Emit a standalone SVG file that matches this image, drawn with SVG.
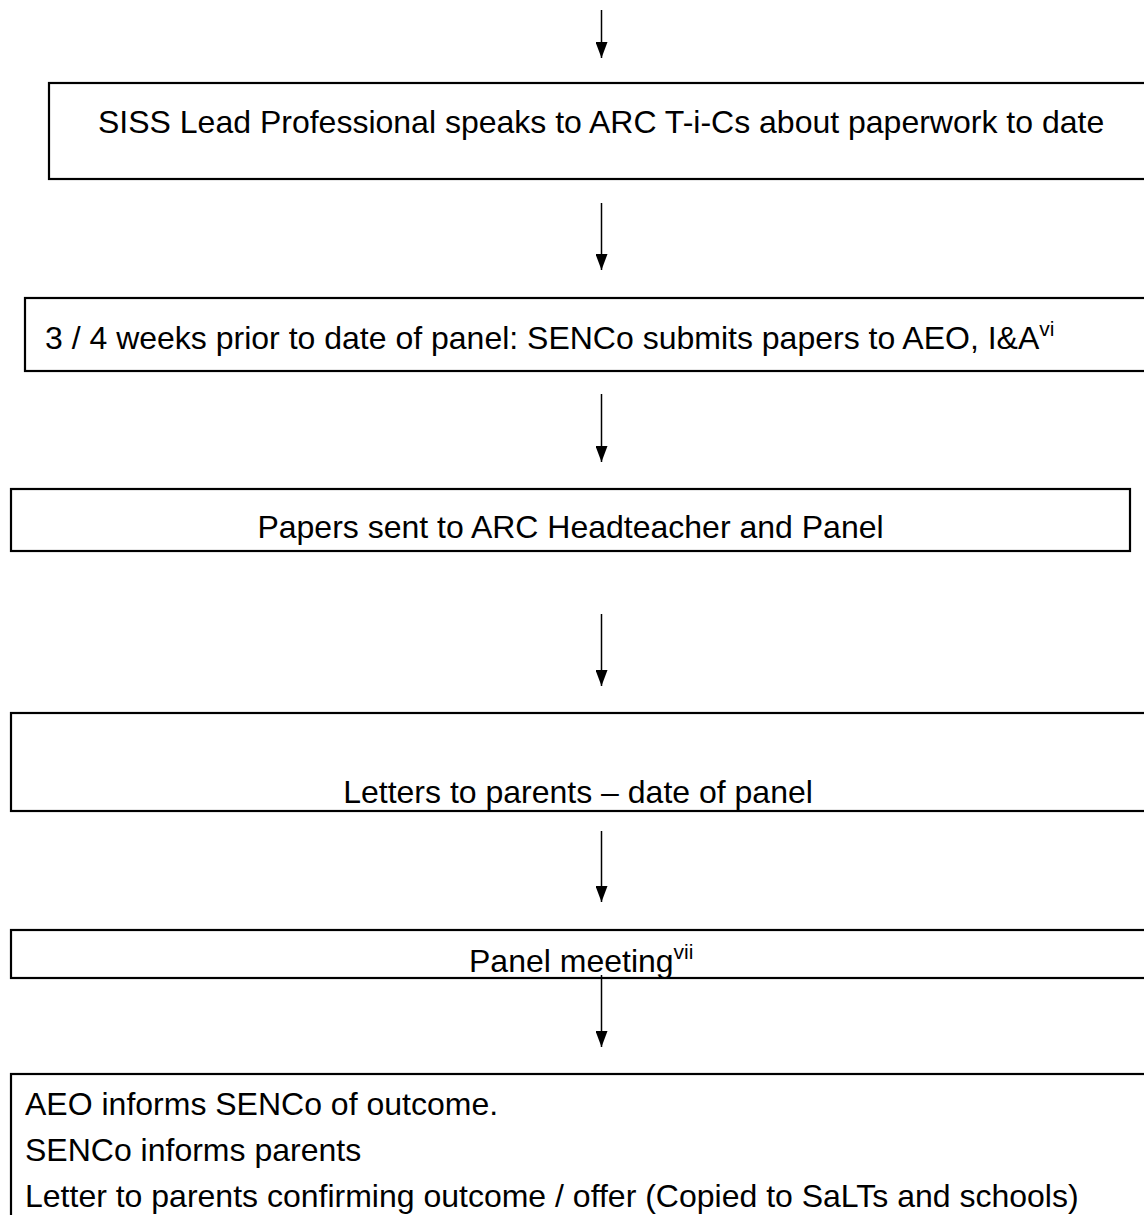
<svg xmlns="http://www.w3.org/2000/svg" width="1144" height="1215" viewBox="0 0 1144 1215">
<style>
.box{fill:#fff;stroke:#000;stroke-width:2.2}
.t{font-family:"Liberation Sans",Arial,sans-serif;font-size:32px;fill:#000}
.sup{font-size:21px}
.conn line{stroke:#000;stroke-width:1.5;fill:none}
</style>
<defs>
<marker id="ah" markerUnits="userSpaceOnUse" markerWidth="16" markerHeight="12" refX="16" refY="6" orient="auto" viewBox="0 0 16 12">
<path d="M0,0 L16,6 L0,12 Z" fill="#000"/>
</marker>
</defs>
<rect width="1144" height="1215" fill="#fff"/>
<g id="n1">
<rect class="box" x="49" y="83" width="1120" height="96"/>
<text class="t" x="98" y="133">SISS Lead Professional speaks to ARC T-i-Cs about paperwork to date</text>
</g>
<g id="n2">
<rect class="box" x="25" y="298" width="1140" height="73"/>
<text class="t" x="45" y="349">3 / 4 weeks prior to date of panel: SENCo submits papers to AEO, I&amp;A<tspan class="sup" dy="-13">vi</tspan></text>
</g>
<g id="n3">
<rect class="box" x="11" y="489" width="1119" height="62"/>
<text class="t" x="570.5" y="538" text-anchor="middle">Papers sent to ARC Headteacher and Panel</text>
</g>
<g id="n4">
<rect class="box" x="11" y="713" width="1150" height="98"/>
<text class="t" x="578" y="803" text-anchor="middle">Letters to parents – date of panel</text>
</g>
<g id="n5">
<rect class="box" x="11" y="930" width="1150" height="48"/>
<text class="t" x="469" y="972">Panel meeting<tspan class="sup" dy="-13">vii</tspan></text>
</g>
<g id="n6">
<rect class="box" x="11" y="1074" width="1150" height="160"/>
<text class="t" x="25" y="1115">AEO informs SENCo of outcome.</text>
<text class="t" x="25" y="1161">SENCo informs parents</text>
<text class="t" x="25" y="1207">Letter to parents confirming outcome / offer (Copied to SaLTs and schools)</text>
</g>
<g id="connectors" class="conn">
<line x1="601.5" y1="10" x2="601.5" y2="58" marker-end="url(#ah)"/>
<line x1="601.5" y1="203" x2="601.5" y2="270" marker-end="url(#ah)"/>
<line x1="601.5" y1="394" x2="601.5" y2="462" marker-end="url(#ah)"/>
<line x1="601.5" y1="614" x2="601.5" y2="686" marker-end="url(#ah)"/>
<line x1="601.5" y1="831" x2="601.5" y2="902" marker-end="url(#ah)"/>
<line x1="601.5" y1="975" x2="601.5" y2="1047" marker-end="url(#ah)"/>
</g>
</svg>
